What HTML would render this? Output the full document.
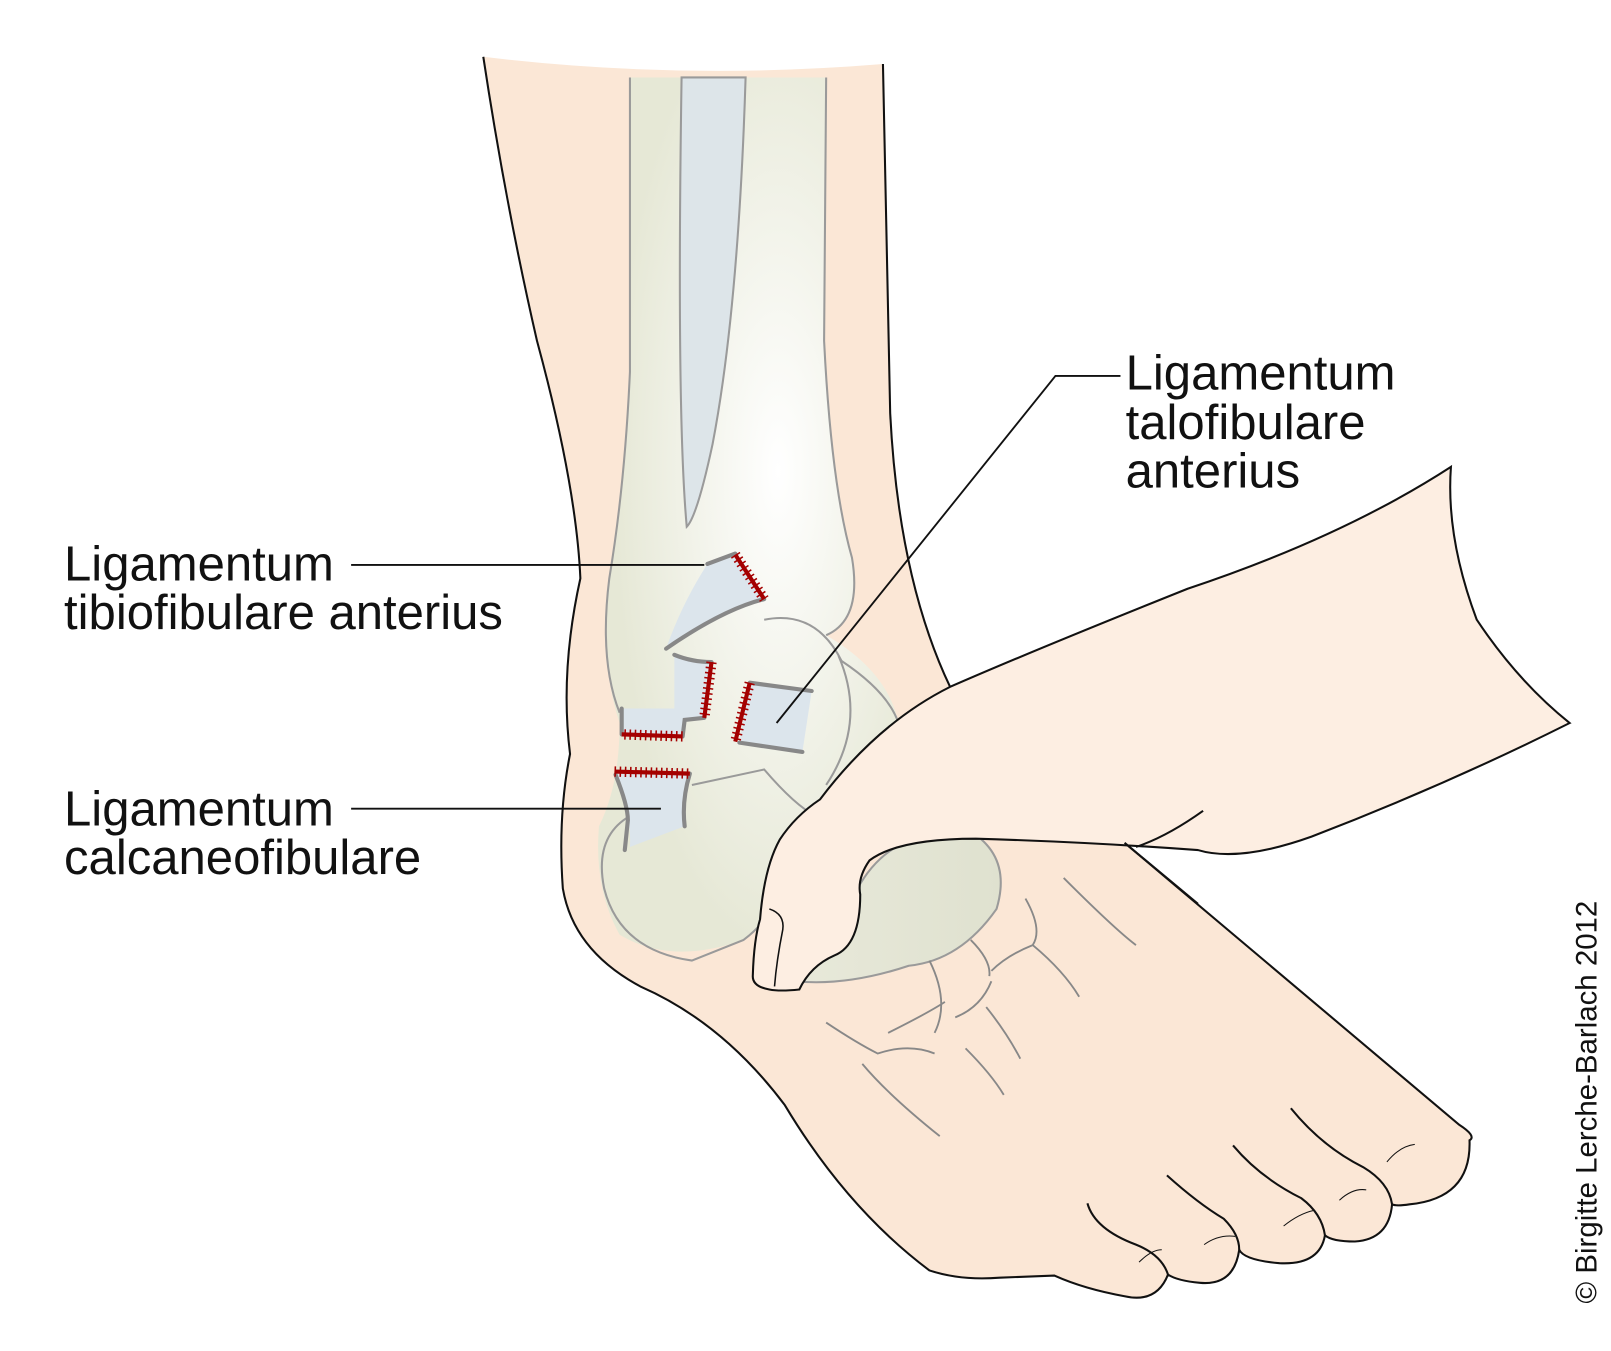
<!DOCTYPE html>
<html><head><meta charset="utf-8"><style>
html,body{margin:0;padding:0;background:#fff;width:1611px;height:1351px;overflow:hidden}
svg{display:block}
text{font-family:"Liberation Sans",Arial,sans-serif;fill:#111}
</style></head><body>
<svg width="1611" height="1351" viewBox="0 0 1560 1308" preserveAspectRatio="none" xmlns="http://www.w3.org/2000/svg">
<defs>
<radialGradient id="g1" cx="0.6" cy="0.45" r="0.55"><stop offset="0" stop-color="#ffffff"/><stop offset="1" stop-color="#e6e8d6"/></radialGradient>
<linearGradient id="gb" x1="0" x2="1"><stop offset="0" stop-color="#e8e9da"/><stop offset="1" stop-color="#dfe1cf"/></linearGradient>
</defs>
<path d="M468,55 Q660,78 855,62 L862,400 Q870,560 920,665 L1089,816 L1413,1089 Q1430,1100 1423,1104 Q1425,1160 1365,1166 Q1352,1168 1348,1166 Q1345,1200 1312,1202 Q1290,1202 1283,1196 Q1278,1225 1239,1223 Q1205,1220 1200,1210 Q1195,1245 1162,1242 Q1140,1240 1131,1234 Q1120,1262 1089,1255 Q1050,1248 1021,1235 L968,1237 Q930,1240 900,1230 Q820,1170 760,1070 Q700,990 620,955 Q555,920 545,860 Q540,790 552,730 Q542,650 562,560 Q558,470 520,330 Q490,200 468,55 Z" fill="#fbe7d6"/>
<path d="M468,55 Q490,200 520,330 Q558,470 562,560 Q542,650 552,730 Q540,790 545,860 Q555,920 620,955 Q700,990 760,1070 Q820,1170 900,1230 Q930,1240 968,1237 L1021,1235 Q1050,1248 1089,1255 Q1120,1262 1131,1234 Q1140,1240 1162,1242 Q1195,1245 1200,1210 Q1205,1220 1239,1223 Q1278,1225 1283,1196 Q1290,1202 1312,1202 Q1345,1200 1348,1166 Q1352,1168 1365,1166 Q1425,1160 1423,1104 Q1430,1100 1413,1089 L1089,816" fill="none" stroke="#111" stroke-width="2"/>
<path d="M855,62 L862,400 Q870,560 920,665" fill="none" stroke="#111" stroke-width="2"/>
<g fill="none" stroke="#111" stroke-width="2">
<path d="M1053,1165 Q1060,1190 1100,1205 Q1125,1215 1131,1234"/>
<path d="M1130,1138 Q1160,1165 1185,1180 Q1200,1195 1200,1210"/>
<path d="M1194,1109 Q1220,1140 1260,1160 Q1280,1175 1283,1196"/>
<path d="M1250,1073 Q1280,1110 1320,1130 Q1345,1145 1348,1166"/>
</g>
<g fill="none" stroke="#111" stroke-width="1">
<path d="M1103,1222 Q1115,1210 1125,1210 M1166,1205 Q1180,1195 1196,1197 M1243,1187 Q1258,1175 1272,1172 M1297,1162 Q1310,1150 1323,1152 M1343,1125 Q1355,1110 1370,1108"/>
</g>
<path d="M610,75 L800,75 L798,330 Q805,470 825,540 Q835,600 800,615 Q860,650 870,700 Q830,760 770,800 Q760,880 720,910 Q650,935 600,905 Q575,860 580,800 Q600,760 600,700 Q580,640 590,560 Q605,470 610,360 Z" fill="url(#g1)"/>
<path d="M610,75 L610,360 Q605,470 590,560 Q580,640 600,690" fill="none" stroke="#9a9a9a" stroke-width="2"/>
<path d="M800,75 L798,330 Q805,470 825,540 Q835,600 800,615" fill="none" stroke="#9a9a9a" stroke-width="2"/>
<path d="M740,600 Q790,590 815,640 Q860,670 870,700 M812,635 Q840,700 800,760" fill="none" stroke="#9a9a9a" stroke-width="2"/>
<path d="M670,760 L740,745 Q770,780 790,790 M610,790 Q575,810 585,860 Q600,920 670,930 L720,910 Q760,880 760,830" fill="none" stroke="#9a9a9a" stroke-width="2"/>
<path d="M828,865 Q860,800 940,805 Q980,830 965,880 Q930,930 880,935 Q820,955 770,950 Q790,920 828,865 Z" fill="url(#gb)" stroke="#9a9a9a" stroke-width="2"/>
<path d="M660,75 L722,75 Q715,300 690,430 Q675,500 665,510 Q655,400 660,75 Z" fill="#dde5e9" stroke="#9a9a9a" stroke-width="2"/>
<g stroke="#888" stroke-width="4" stroke-linecap="round">
<path d="M685,546 L712,536 L740,580 Q700,590 645,628 Q660,585 685,546 Z" fill="#dce5ec" stroke="none"/>
<path d="M685,546 L712,536 M740,580 Q700,590 645,628" fill="none"/>
<path d="M653,634 Q670,641 689,641 L682,695 L663,697 L661,713 L602,711 L602,686 L653,686 Z" fill="#dce5ec" stroke="none"/>
<path d="M653,634 Q670,641 689,641 M682,695 L663,697 L661,713 M602,711 L602,686" fill="none"/>
<path d="M726,661 L786,669 L777,728 L716,719 Z" fill="#dce5ec" stroke="none"/>
<path d="M726,661 L786,669 M716,719 L777,728" fill="none"/>
<path d="M595,747 L668,749 Q660,775 663,800 L610,820 Q612,790 595,747 Z" fill="#dce5ec" stroke="none"/>
<path d="M596,750 Q608,780 608,794 L605,823 M668,749 Q660,775 663,800" fill="none"/>
</g>
<g stroke="#a40000" fill="none">
<path d="M712,537 L740,580 M689,641 L682,695 M661,713 L602,711 M726,661 L712,718 M595,747 L668,749" stroke-width="4"/>
<path d="M712,537 L740,580 M689,641 L682,695 M661,713 L602,711 M726,661 L712,718 M595,747 L668,749" stroke-width="10" stroke-dasharray="1.5 3.5"/>
</g>
<path d="M920,665 Q1000,630 1150,570 Q1300,520 1405,452 Q1400,520 1430,600 Q1470,660 1520,700 Q1400,760 1270,810 Q1200,835 1160,823 Q1050,815 945,812 Q870,812 842,833 Q830,850 833,866 Q833,915 808,925 Q785,935 774,958 Q755,960 745,958 Q728,955 729,944 Q730,910 736,890 Q740,840 755,813 Q770,790 794,774 Q850,700 920,665 Z" fill="#fdeee2" stroke="#111" stroke-width="2"/>
<path d="M1165,785 Q1130,810 1100,820" fill="none" stroke="#111" stroke-width="2"/>
<path d="M1089,816 L1160,875" fill="none" stroke="#111" stroke-width="2"/>
<path d="M745,880 Q760,885 758,900 Q752,930 750,955" fill="none" stroke="#111" stroke-width="1.5"/>
<g fill="none" stroke="#888" stroke-width="1.8">
<path d="M1030,850 Q1080,900 1100,915 M993,870 Q1010,900 1000,915 Q975,925 960,940 M1000,915 Q1030,940 1045,965 M940,910 Q960,930 958,945 M900,930 Q920,970 905,1000 M960,950 Q950,975 925,985 M955,975 Q975,1000 988,1025 M800,990 Q830,1010 850,1020 Q880,1010 905,1020 M835,1030 Q860,1060 910,1100 M935,1015 Q960,1040 972,1060 M860,1000 Q900,980 915,970"/>
</g>
<g stroke="#111" stroke-width="1.8" fill="none">
<line x1="340" y1="547" x2="682" y2="547"/>
<path d="M1085,364 L1022,364 L752,700"/>
<line x1="340" y1="783" x2="640" y2="783"/>
</g>
<g font-size="47.5">
<text x="62" y="562">Ligamentum</text>
<text x="62" y="609">tibiofibulare anterius</text>
<text x="1090" y="377">Ligamentum</text>
<text x="1090" y="425">talofibulare</text>
<text x="1090" y="472">anterius</text>
<text x="62" y="799">Ligamentum</text>
<text x="62" y="846">calcaneofibulare</text>
</g>
<text font-size="28.5" transform="translate(1546,1262) rotate(-90)">© Birgitte Lerche-Barlach 2012</text>
</svg>
</body></html>
